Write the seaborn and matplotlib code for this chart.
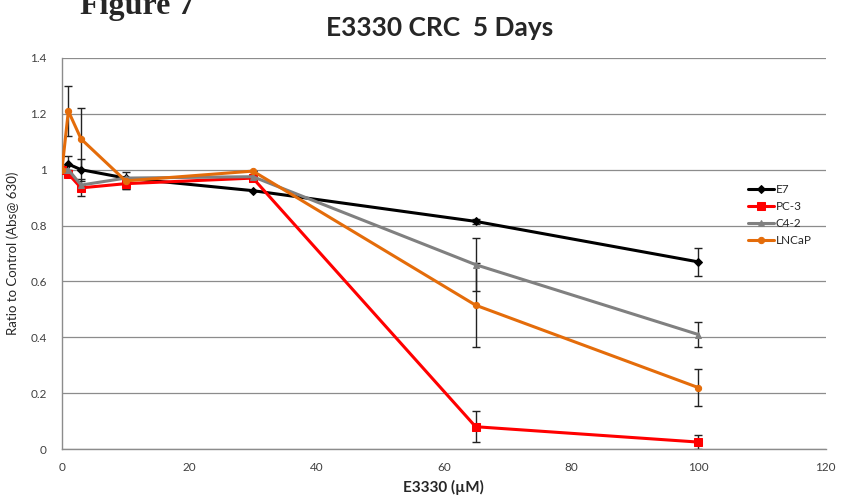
import numpy as np
import pandas as pd
import matplotlib
matplotlib.use('Agg')
import matplotlib.pyplot as plt
import seaborn as sns

# concentrations (uM)
dose = [0, 1, 3, 10, 30, 65, 100]

e7 = [1.0, 1.02, 1.0, 0.97, 0.925, 0.815, 0.67]
e7_err = [0.0, 0.03, 0.04, 0.0, 0.0, 0.01, 0.05]

pc3 = [1.0, 0.985, 0.935, 0.95, 0.97, 0.08, 0.025]
pc3_err = [0.0, 0.0, 0.03, 0.02, 0.0, 0.055, 0.025]

c42 = [1.0, 1.0, 0.945, 0.97, 0.975, 0.66, 0.41]
c42_err = [0.0, 0.0, 0.0, 0.0, 0.0, 0.095, 0.045]

lncap = [1.0, 1.21, 1.11, 0.96, 0.995, 0.515, 0.22]
lncap_err = [0.0, 0.09, 0.11, 0.03, 0.0, 0.15, 0.065]

lines = ['E7', 'PC-3', 'C4-2', 'LNCaP']
colors = {'E7': '#000000', 'PC-3': '#FF0000', 'C4-2': '#808080', 'LNCaP': '#E46C0A'}
markers = {'E7': 'D', 'PC-3': 's', 'C4-2': '^', 'LNCaP': 'o'}
msize = {'E7': 4, 'PC-3': 6, 'C4-2': 5, 'LNCaP': 4.5}

series = {'E7': (e7, e7_err), 'PC-3': (pc3, pc3_err), 'C4-2': (c42, c42_err), 'LNCaP': (lncap, lncap_err)}

rows = []
for name in lines:
    vals, errs = series[name]
    for d, v, e in zip(dose, vals, errs):
        rows.append({'dose': d, 'ratio': v, 'err': e, 'line': name})
df = pd.DataFrame(rows)

sns.set_style('white')
plt.rcParams['font.family'] = ['Lato', 'DejaVu Sans']

fig = plt.figure(figsize=(8.41, 5.04), dpi=100)
ax = fig.add_axes([0.0737, 0.109, 0.908, 0.776])

for name in lines:
    sub = df[df['line'] == name]
    ax.errorbar(sub['dose'], sub['ratio'], yerr=sub['err'], fmt='none',
                ecolor='#222222', elinewidth=1, capsize=3, capthick=1, zorder=2)
    sns.lineplot(data=sub, x='dose', y='ratio', color=colors[name], marker=markers[name],
                 markersize=msize[name], markeredgecolor=colors[name], linewidth=2.2,
                 label=name, ax=ax, zorder=3)

ax.set_xlim(0, 120)
ax.set_ylim(0, 1.4)
ax.set_xticks(np.arange(0, 121, 20))
ax.set_yticks([0, 0.2, 0.4, 0.6, 0.8, 1.0, 1.2, 1.4])
ax.set_yticklabels(['0', '0.2', '0.4', '0.6', '0.8', '1', '1.2', '1.4'])
ax.yaxis.grid(True, color='#8c8c8c', linewidth=0.9)
ax.xaxis.grid(False)
for s in ['top', 'right']:
    ax.spines[s].set_visible(False)
for s in ['left', 'bottom']:
    ax.spines[s].set_color('#8c8c8c')
    ax.spines[s].set_linewidth(1)
ax.tick_params(axis='both', length=5, width=0.9, color='#8c8c8c', labelsize=8.5, labelcolor='#404040', direction='out', pad=4)
ax.tick_params(axis='y', pad=6)

ax.set_xlabel('E3330 (µM)', fontsize=11, fontweight='bold', labelpad=5)
ax.set_ylabel('Ratio to Control (Abs@ 630)', fontsize=9.5, labelpad=8)

fig.text(0.523, 0.945, 'E3330 CRC  5 Days', ha='center', va='center', fontsize=19, fontweight='bold')
fig.text(0.095, 0.972, 'Figure 7', ha='left', va='baseline', fontsize=23, fontweight='bold',
         family=['Liberation Serif', 'DejaVu Serif'])

leg = ax.legend(loc='center left', bbox_to_anchor=(0.885, 0.598), frameon=False, fontsize=8.5,
                handlelength=2.2, handletextpad=0.1, labelspacing=0.5)

fig.savefig('out.png', dpi=100)
